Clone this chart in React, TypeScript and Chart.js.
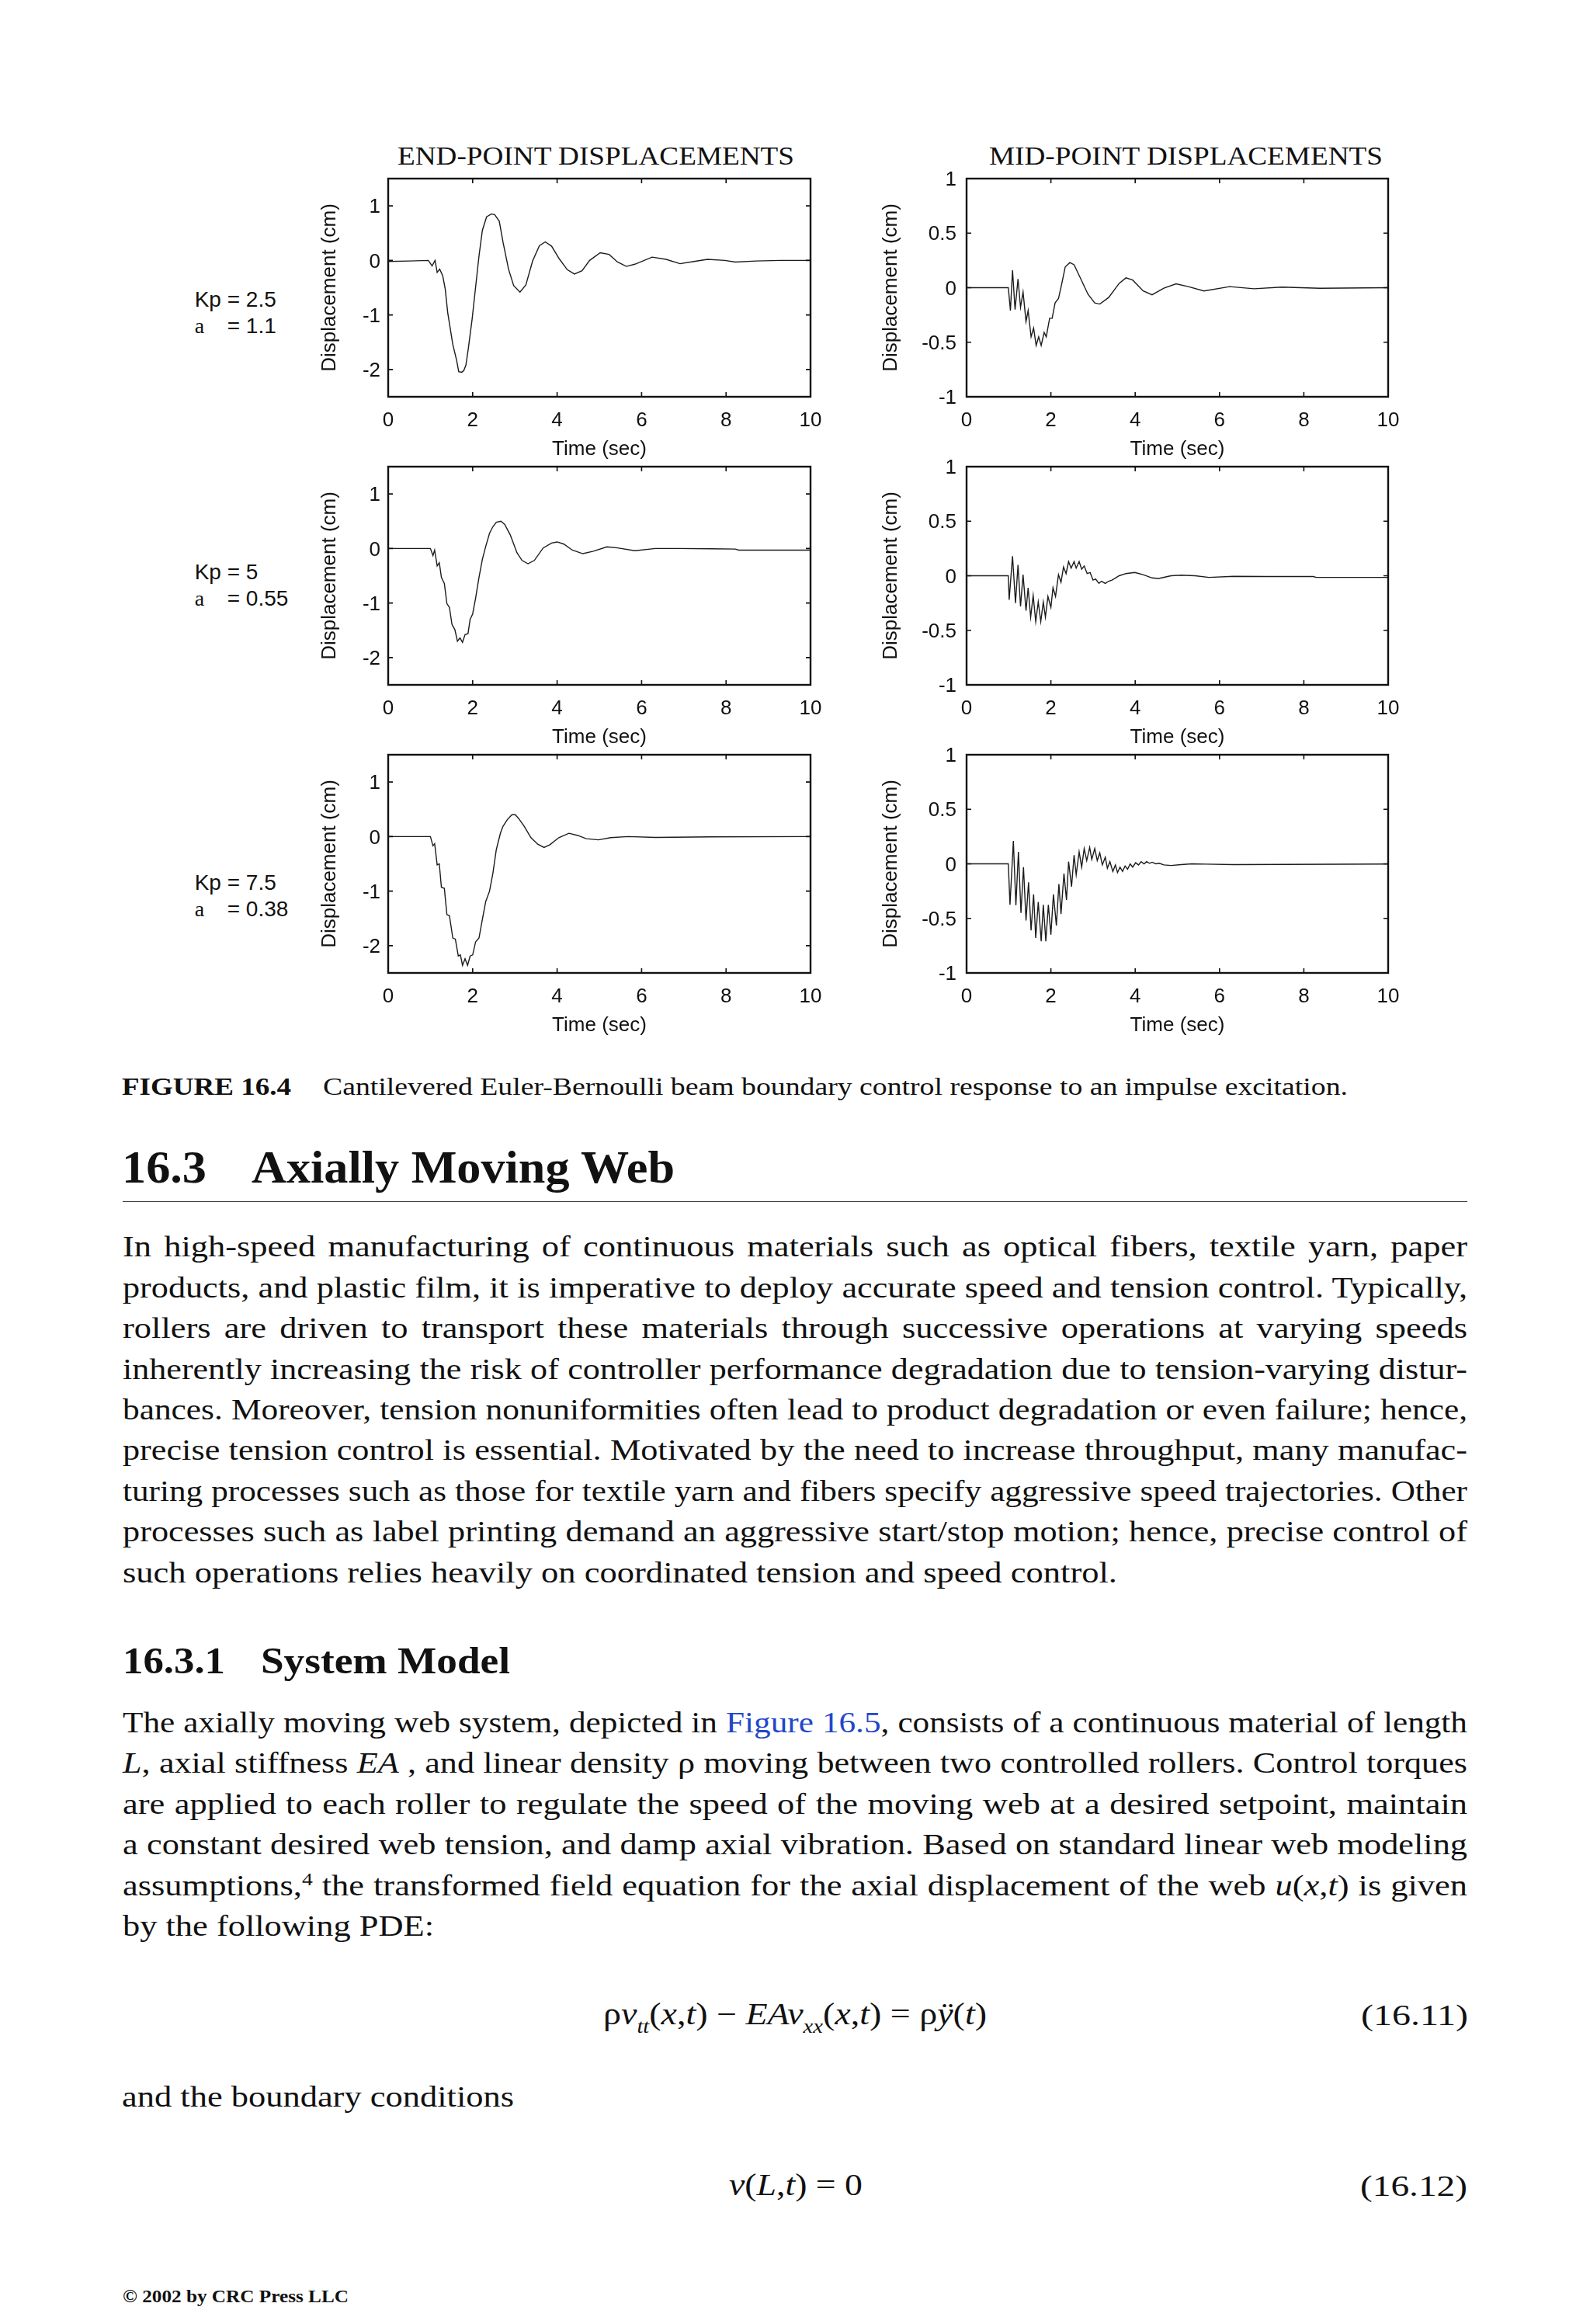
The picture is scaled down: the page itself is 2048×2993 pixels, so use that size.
import React, { useEffect, useLayoutEffect, useRef } from 'react';
import { Chart, registerables } from 'chart.js';

Chart.register(...registerables);

const SERIF = '"Liberation Serif", "Times New Roman", serif';
const SANS = '"Liberation Sans", Arial, Helvetica, sans-serif';
const INK = '#111111';
const BLUE = '#2247c9';

// ---------- chart data ----------
const X_TICKS = [0, 2, 4, 6, 8, 10];
const END_Y_TICKS = [-2, -1, 0, 1];
const MID_Y_TICKS = [-1, -0.5, 0, 0.5, 1];
const END_Y_RANGE = [-2.5, 1.5];
const MID_Y_RANGE = [-1, 1];

const GAIN_LABELS = ['Kp = 2.5', 'Kp = 5', 'Kp = 7.5'];
const ALPHA_VALUES = ['= 1.1', '= 0.55', '= 0.38'];

// Kp = 2.5
const END_T_KP25 = [0, 0.5, 0.95, 1.04, 1.11, 1.16, 1.22, 1.29, 1.35, 1.41, 1.53, 1.62, 1.67, 1.74, 1.79, 1.84, 1.9, 1.99, 2.07, 2.15, 2.23, 2.33, 2.44, 2.52, 2.63, 2.72, 2.85, 2.97, 3.12, 3.26, 3.42, 3.58, 3.72, 3.87, 4.05, 4.24, 4.41, 4.59, 4.77, 5.02, 5.23, 5.43, 5.64, 5.84, 6.25, 6.58, 6.91, 7.24, 7.56, 7.97, 8.22, 8.71, 9.29, 10];
const END_V_KP25 = [-0.02, -0.01, 0, -0.1, 0, -0.22, -0.16, -0.28, -0.52, -0.96, -1.54, -1.83, -2.04, -2.05, -2.02, -1.92, -1.6, -1.06, -0.49, 0.08, 0.55, 0.8, 0.85, 0.84, 0.72, 0.33, -0.16, -0.46, -0.58, -0.45, -0.01, 0.27, 0.34, 0.26, 0.03, -0.17, -0.25, -0.19, 0, 0.14, 0.11, -0.03, -0.11, -0.07, 0.06, 0.02, -0.06, -0.02, 0.02, 0, -0.03, -0.01, 0, 0];
const MID_T_KP25 = [0, 0.99, 1.04, 1.09, 1.15, 1.22, 1.28, 1.34, 1.41, 1.46, 1.53, 1.59, 1.65, 1.71, 1.77, 1.84, 1.89, 1.97, 2.03, 2.1, 2.18, 2.26, 2.34, 2.45, 2.55, 2.71, 2.88, 3.04, 3.16, 3.37, 3.62, 3.78, 3.94, 4.19, 4.4, 4.68, 4.97, 5.26, 5.63, 6.24, 6.82, 7.48, 8.38, 10];
const MID_V_KP25 = [0, 0, -0.21, 0.16, -0.2, 0.08, -0.18, -0.04, -0.31, -0.21, -0.45, -0.37, -0.53, -0.45, -0.53, -0.41, -0.45, -0.28, -0.28, -0.14, -0.1, 0.04, 0.19, 0.23, 0.21, 0.08, -0.06, -0.14, -0.15, -0.09, 0.04, 0.09, 0.07, -0.03, -0.065, -0.005, 0.035, 0.01, -0.03, 0.01, -0.01, 0.005, -0.005, 0];

// Kp = 5
const END_T_KP5 = [0, 1.0, 1.06, 1.1, 1.16, 1.21, 1.26, 1.33, 1.39, 1.45, 1.51, 1.58, 1.64, 1.7, 1.76, 1.82, 1.89, 1.94, 2.0, 2.07, 2.15, 2.23, 2.31, 2.4, 2.48, 2.56, 2.67, 2.76, 2.89, 3.05, 3.17, 3.31, 3.46, 3.67, 3.87, 4.0, 4.16, 4.36, 4.61, 4.86, 5.18, 5.43, 5.84, 6.33, 6.83, 7.65, 8.22, 8.3, 10];
const END_V_KP5 = [0, 0, -0.13, -0.03, -0.32, -0.26, -0.53, -0.64, -1.01, -1.08, -1.39, -1.49, -1.7, -1.64, -1.72, -1.58, -1.56, -1.3, -1.2, -0.91, -0.53, -0.2, 0.04, 0.28, 0.4, 0.48, 0.5, 0.44, 0.25, -0.08, -0.22, -0.28, -0.22, 0.01, 0.1, 0.12, 0.08, -0.03, -0.095, -0.05, 0.03, 0.01, -0.04, 0, 0, -0.005, -0.01, -0.03, -0.03];
const MID_T_KP5 = [0, 0.99, 1.01, 1.09, 1.16, 1.22, 1.28, 1.34, 1.41, 1.46, 1.52, 1.58, 1.64, 1.7, 1.76, 1.82, 1.87, 1.93, 2.0, 2.05, 2.11, 2.18, 2.24, 2.3, 2.36, 2.42, 2.48, 2.55, 2.6, 2.67, 2.73, 2.79, 2.86, 2.93, 3.0, 3.06, 3.14, 3.2, 3.29, 3.37, 3.45, 3.62, 3.78, 3.99, 4.19, 4.4, 4.56, 4.85, 5.09, 5.42, 5.75, 6.33, 7.15, 8.22, 8.3, 10];
const MID_V_KP5 = [0, 0, -0.22, 0.18, -0.25, 0.1, -0.28, 0.01, -0.32, -0.11, -0.38, -0.18, -0.42, -0.24, -0.42, -0.24, -0.38, -0.19, -0.29, -0.11, -0.19, 0.01, -0.06, 0.08, 0.02, 0.13, 0.07, 0.13, 0.07, 0.13, 0.06, 0.09, 0.02, 0.03, -0.04, -0.03, -0.07, -0.05, -0.07, -0.05, -0.04, 0, 0.02, 0.03, 0.01, -0.02, -0.025, 0, 0.005, 0, -0.015, -0.005, -0.007, -0.007, -0.015, -0.015];

// Kp = 7.5
const END_T_KP75 = [0, 1.0, 1.06, 1.1, 1.16, 1.21, 1.26, 1.33, 1.39, 1.45, 1.53, 1.59, 1.66, 1.71, 1.76, 1.82, 1.88, 1.94, 2.0, 2.07, 2.15, 2.23, 2.31, 2.4, 2.48, 2.56, 2.66, 2.72, 2.82, 2.93, 3.01, 3.09, 3.22, 3.38, 3.54, 3.69, 3.83, 4.04, 4.28, 4.49, 4.69, 4.98, 5.27, 5.68, 6.33, 7.65, 10];
const END_V_KP75 = [0, 0, -0.17, -0.13, -0.52, -0.5, -0.93, -0.95, -1.43, -1.45, -1.86, -1.88, -2.19, -2.17, -2.36, -2.24, -2.36, -2.19, -2.17, -1.93, -1.86, -1.52, -1.19, -1.0, -0.67, -0.24, 0.07, 0.19, 0.31, 0.4, 0.4, 0.33, 0.19, -0.02, -0.14, -0.2, -0.15, -0.02, 0.06, 0.02, -0.04, -0.06, -0.02, 0, -0.015, -0.005, 0];
const MID_T_KP75 = [0, 0.99, 1.03, 1.11, 1.17, 1.23, 1.29, 1.35, 1.41, 1.47, 1.53, 1.59, 1.64, 1.7, 1.77, 1.82, 1.88, 1.94, 2.0, 2.06, 2.13, 2.19, 2.24, 2.31, 2.37, 2.42, 2.49, 2.55, 2.6, 2.67, 2.73, 2.79, 2.85, 2.92, 2.97, 3.04, 3.1, 3.16, 3.22, 3.29, 3.34, 3.4, 3.47, 3.53, 3.58, 3.64, 3.7, 3.76, 3.82, 3.88, 3.94, 4.01, 4.08, 4.14, 4.21, 4.27, 4.34, 4.4, 4.49, 4.57, 4.68, 4.85, 5.09, 5.34, 5.67, 6.33, 7.56, 10];
const MID_V_KP75 = [0, 0, -0.375, 0.21, -0.38, 0.11, -0.45, -0.03, -0.52, -0.17, -0.61, -0.28, -0.68, -0.35, -0.71, -0.375, -0.71, -0.375, -0.65, -0.28, -0.565, -0.185, -0.46, -0.09, -0.33, 0.02, -0.21, 0.08, -0.1, 0.11, -0.03, 0.14, 0.03, 0.15, 0.04, 0.14, 0.03, 0.1, -0.01, 0.06, -0.04, 0.02, -0.07, -0.01, -0.08, -0.03, -0.07, -0.02, -0.05, 0, -0.03, 0.01, -0.01, 0.02, 0, 0.02, 0.005, 0.015, 0, 0.005, -0.01, -0.015, -0.007, 0, -0.003, -0.007, -0.005, -0.002];

// ---------- layout ----------
const ROW_TOPS = [230, 601, 971.5];
const PLOT_H = 281;
const TOP_PAD = 22;
const RIGHT_PAD = 26;
const X_AXIS_H = 83;
const END_COL = { canvasLeft: 409, yW: 91, plotW: 544, tickPad: 10 };
const MID_COL = { canvasLeft: 1132, yW: 113, plotW: 543, tickPad: 13 };

const framePlugin = {
  id: 'matlabFrame',
  afterDatasetsDraw(chart: any) {
    const { ctx, chartArea: a, scales } = chart;
    const xs = scales.x;
    const ys = scales.y;
    ctx.save();
    ctx.strokeStyle = INK;
    ctx.lineWidth = 1.6;
    ctx.beginPath();
    for (const tk of xs.ticks) {
      const px = xs.getPixelForValue(tk.value);
      ctx.moveTo(px, a.bottom);
      ctx.lineTo(px, a.bottom - 6);
      ctx.moveTo(px, a.top);
      ctx.lineTo(px, a.top + 6);
    }
    for (const tk of ys.ticks) {
      const py = ys.getPixelForValue(tk.value);
      ctx.moveTo(a.left, py);
      ctx.lineTo(a.left + 6, py);
      ctx.moveTo(a.right, py);
      ctx.lineTo(a.right - 6, py);
    }
    ctx.stroke();
    ctx.lineWidth = 2.4;
    ctx.strokeRect(a.left, a.top, a.right - a.left, a.bottom - a.top);
    ctx.restore();
  },
};

type PanelProps = {
  col: { canvasLeft: number; yW: number; plotW: number; tickPad: number };
  rowTop: number;
  t: number[];
  v: number[];
  yRange: number[];
  yTicks: number[];
};

function Panel({ col, rowTop, t, v, yRange, yTicks }: PanelProps) {
  const ref = useRef<HTMLCanvasElement>(null);
  const W = col.yW + col.plotW + RIGHT_PAD;
  const H = TOP_PAD + PLOT_H + X_AXIS_H;
  useEffect(() => {
    const canvas = ref.current;
    if (!canvas) return;
    const zeroPad = (s: any) => {
      s.paddingLeft = 0;
      s.paddingRight = 0;
      s.paddingTop = 0;
      s.paddingBottom = 0;
    };
    const chart = new Chart(canvas, {
      type: 'line',
      data: {
        datasets: [
          {
            data: t.map((x, i) => ({ x, y: v[i] })),
            borderColor: '#1c1c1c',
            borderWidth: 1.4,
            pointRadius: 0,
            tension: 0,
            fill: false,
          },
        ],
      },
      options: {
        animation: false,
        responsive: false,
        maintainAspectRatio: false,
        events: [],
        layout: { padding: { top: TOP_PAD, right: RIGHT_PAD, left: 0, bottom: 0 } },
        plugins: { legend: { display: false }, tooltip: { enabled: false } },
        scales: {
          x: {
            type: 'linear',
            min: 0,
            max: 10,
            afterBuildTicks: (s: any) => {
              s.ticks = X_TICKS.map((value) => ({ value }));
            },
            afterFit: (s: any) => {
              s.height = X_AXIS_H;
              zeroPad(s);
            },
            grid: { display: false, drawTicks: false },
            border: { display: false },
            ticks: {
              padding: 15,
              color: INK,
              font: { family: SANS, size: 26 },
              maxRotation: 0,
              autoSkip: false,
              callback: (val: any) => String(val),
            },
            title: {
              display: true,
              text: 'Time (sec)',
              color: INK,
              font: { family: SANS, size: 26 },
              padding: 0,
            },
          },
          y: {
            type: 'linear',
            min: yRange[0],
            max: yRange[1],
            afterBuildTicks: (s: any) => {
              s.ticks = yTicks.map((value) => ({ value }));
            },
            afterFit: (s: any) => {
              s.width = col.yW;
              zeroPad(s);
            },
            grid: { display: false, drawTicks: false },
            border: { display: false },
            ticks: {
              padding: col.tickPad,
              labelOffset: 2,
              color: INK,
              font: { family: SANS, size: 26 },
              autoSkip: false,
              callback: (val: any) => String(val),
            },
            title: {
              display: true,
              text: 'Displacement (cm)',
              color: INK,
              font: { family: SANS, size: 26 },
              padding: 0,
            },
          },
        },
      } as any,
      plugins: [framePlugin],
    });
    return () => chart.destroy();
  }, []);
  return (
    <canvas
      ref={ref}
      width={W}
      height={H}
      style={{ position: 'absolute', left: col.canvasLeft, top: rowTop - TOP_PAD, width: W, height: H }}
    />
  );
}

// ---------- text helpers ----------
type LineProps = {
  x: number;
  base: number;
  size: number;
  width?: number;
  justify?: boolean;
  glyph?: number;
  family?: string;
  weight?: any;
  italic?: boolean;
  children: React.ReactNode;
};

function Line({ x, base, size, width, justify, glyph = 1.17, family = SERIF, weight = 'normal', italic, children }: LineProps) {
  const ref = useRef<HTMLDivElement>(null);
  useLayoutEffect(() => {
    const el = ref.current;
    if (!el || !width) return;
    el.style.transform = 'none';
    el.style.width = 'auto';
    el.style.whiteSpace = 'nowrap';
    const w = el.getBoundingClientRect().width;
    if (!w) return;
    if (justify) {
      const s = Math.min(glyph, width / (w + 3));
      el.style.width = `${width / s}px`;
      el.style.textAlign = 'justify';
      (el.style as any).textAlignLast = 'justify';
      el.style.whiteSpace = 'normal';
      el.style.transform = `scaleX(${s})`;
    } else {
      el.style.transform = `scaleX(${width / w})`;
    }
  }, [width, justify]);
  return (
    <div
      ref={ref}
      style={{
        position: 'absolute',
        left: x,
        top: base - 0.84 * size,
        fontSize: size,
        lineHeight: `${size}px`,
        fontFamily: family,
        fontWeight: weight,
        fontStyle: italic ? 'italic' : 'normal',
        color: INK,
        whiteSpace: 'nowrap',
        transformOrigin: '0 0',
      }}
    >
      {children}
    </div>
  );
}

const Sub = ({ children }: { children: React.ReactNode }) => (
  <span style={{ fontSize: '0.62em', position: 'relative', top: '0.42em' }}>{children}</span>
);
const Sup = ({ children }: { children: React.ReactNode }) => (
  <span style={{ fontSize: '0.62em', position: 'relative', top: '-0.55em' }}>{children}</span>
);

const PARA1 = [
  'In high-speed manufacturing of continuous materials such as optical fibers, textile yarn, paper',
  'products, and plastic film, it is imperative to deploy accurate speed and tension control. Typically,',
  'rollers are driven to transport these materials through successive operations at varying speeds',
  'inherently increasing the risk of controller performance degradation due to tension-varying distur-',
  'bances. Moreover, tension nonuniformities often lead to product degradation or even failure; hence,',
  'precise tension control is essential. Motivated by the need to increase throughput, many manufac-',
  'turing processes such as those for textile yarn and fibers specify aggressive speed trajectories. Other',
  'processes such as label printing demand an aggressive start/stop motion; hence, precise control of',
];
const PARA1_LAST = 'such operations relies heavily on coordinated tension and speed control.';

const PARA2: React.ReactNode[] = [
  <>
    The axially moving web system, depicted in <span style={{ color: BLUE }}>Figure 16.5</span>, consists of a continuous material of length
  </>,
  <>
    <i>L</i>, axial stiffness <i>EA</i> , and linear density ρ moving between two controlled rollers. Control torques
  </>,
  'are applied to each roller to regulate the speed of the moving web at a desired setpoint, maintain',
  'a constant desired web tension, and damp axial vibration. Based on standard linear web modeling',
  <>
    assumptions,<Sup>4</Sup> the transformed field equation for the axial displacement of the web <i>u</i>(<i>x</i>,<i>t</i>) is given
  </>,
];
const PARA2_LAST = 'by the following PDE:';

const TEXT_LEFT = 158;
const TEXT_W = 1732;
const P1_BASE = 1618.3;
const P2_BASE = 2231;
const PITCH = 52.4;

export default function App() {
  const panels = [
    { t: END_T_KP25, v: END_V_KP25, mt: MID_T_KP25, mv: MID_V_KP25 },
    { t: END_T_KP5, v: END_V_KP5, mt: MID_T_KP5, mv: MID_V_KP5 },
    { t: END_T_KP75, v: END_V_KP75, mt: MID_T_KP75, mv: MID_V_KP75 },
  ];
  const kpBase = [396, 747, 1147];
  return (
    <div style={{ position: 'absolute', left: 0, top: 0, width: 2048, height: 2993, background: '#fff', overflow: 'hidden' }}>
      {/* column titles */}
      <Line x={511.7} base={213} size={34} width={511}>END-POINT DISPLACEMENTS</Line>
      <Line x={1274} base={213} size={34} width={507}>MID-POINT DISPLACEMENTS</Line>

      {panels.map((p, i) => (
        <React.Fragment key={i}>
          <Panel col={END_COL} rowTop={ROW_TOPS[i]} t={p.t} v={p.v} yRange={END_Y_RANGE} yTicks={END_Y_TICKS} />
          <Panel col={MID_COL} rowTop={ROW_TOPS[i]} t={p.mt} v={p.mv} yRange={MID_Y_RANGE} yTicks={MID_Y_TICKS} />
          <Line x={250.7} base={kpBase[i]} size={28} family={SANS}>{GAIN_LABELS[i]}</Line>
          <Line x={250.7} base={kpBase[i] + 34} size={28}>a</Line>
          <Line x={292.7} base={kpBase[i] + 34} size={28} family={SANS}>{ALPHA_VALUES[i]}</Line>
        </React.Fragment>
      ))}

      {/* caption */}
      <Line x={157} base={1410} size={31} width={218} weight="bold">FIGURE 16.4</Line>
      <Line x={415.5} base={1410} size={31} width={1320}>
        Cantilevered Euler-Bernoulli beam boundary control response to an impulse excitation.
      </Line>

      {/* section heading */}
      <Line x={157} base={1523} size={60} width={109} weight="bold">16.3</Line>
      <Line x={324} base={1523} size={60} width={545} weight="bold">Axially Moving Web</Line>
      <div style={{ position: 'absolute', left: 158, top: 1546.5, width: 1732, height: 1.6, background: '#3a3a3a' }} />

      {PARA1.map((s, i) => (
        <Line key={'p1' + i} x={TEXT_LEFT} base={P1_BASE + i * PITCH} size={38} width={TEXT_W} justify>
          {s}
        </Line>
      ))}
      <Line x={TEXT_LEFT} base={P1_BASE + 8 * PITCH} size={38} width={1281}>{PARA1_LAST}</Line>

      {/* subsection */}
      <Line x={158} base={2155} size={48} width={132} weight="bold">16.3.1</Line>
      <Line x={336} base={2155} size={48} width={321} weight="bold">System Model</Line>

      {PARA2.map((s, i) => (
        <Line key={'p2' + i} x={TEXT_LEFT} base={P2_BASE + i * PITCH} size={38} width={TEXT_W} justify>
          {s}
        </Line>
      ))}
      <Line x={TEXT_LEFT} base={P2_BASE + 5 * PITCH} size={38} width={401}>{PARA2_LAST}</Line>

      {/* equation 16.11 */}
      <Line x={777} base={2608} size={40} width={494}>
        ρ<i>v</i>
        <Sub><i>tt</i></Sub>(<i>x</i>,<i>t</i>) − <i>EAv</i>
        <Sub><i>xx</i></Sub>(<i>x</i>,<i>t</i>) = ρ<i>ÿ</i>(<i>t</i>)
      </Line>
      <Line x={1753} base={2608} size={38} width={138}>(16.11)</Line>

      <Line x={157} base={2713} size={38} width={505}>and the boundary conditions</Line>

      {/* equation 16.12 */}
      <Line x={939} base={2828} size={40} width={172}>
        <i>v</i>(<i>L</i>,<i>t</i>) = 0
      </Line>
      <Line x={1752} base={2828} size={38} width={138}>(16.12)</Line>

      {/* footer */}
      <Line x={158} base={2965} size={24} width={291} weight="bold">© 2002 by CRC Press LLC</Line>
    </div>
  );
}
